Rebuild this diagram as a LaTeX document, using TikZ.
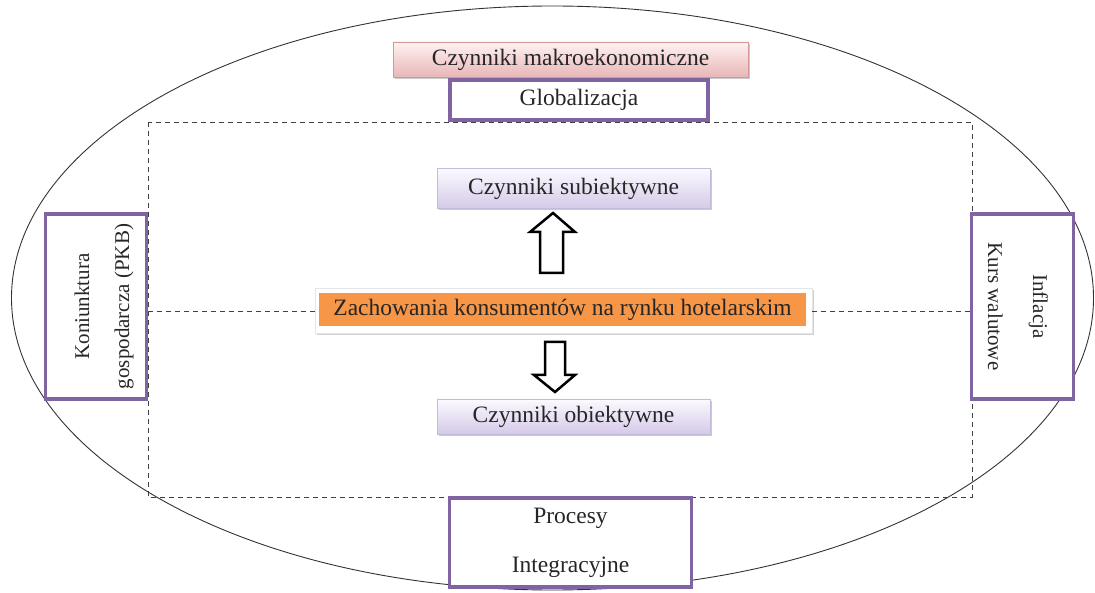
\documentclass[tikz,border=0pt]{standalone}
\usepackage{fontspec}
\setmainfont{Liberation Serif}
\usetikzlibrary{shadows}
\definecolor{purp}{RGB}{128,100,162}
\definecolor{orng}{RGB}{247,150,70}
\definecolor{lavtop}{RGB}{252,250,255}
\definecolor{lavbot}{RGB}{212,202,232}
\definecolor{lavline}{RGB}{196,186,218}
\definecolor{pinktop}{RGB}{255,242,242}
\definecolor{pinkbot}{RGB}{232,182,182}
\definecolor{pinkline}{RGB}{212,150,150}
\tikzset{
  txt/.style={font=\fontsize{23.5}{28}\selectfont, text=black!85, inner sep=0pt},
  purplebox/.style={txt, draw=purp, line width=3.5pt, fill=white},
  lavbox/.style={txt, draw=lavline, line width=0.8pt, top color=lavtop, bottom color=lavbot,
     drop shadow={shadow xshift=2pt, shadow yshift=-2pt, fill=black!35, opacity=0.6}},
  pinkbox/.style={txt, draw=pinkline, line width=0.8pt, top color=pinktop, bottom color=pinkbot,
     drop shadow={shadow xshift=2pt, shadow yshift=-2pt, fill=black!35, opacity=0.6}},
  dashline/.style={draw=black!75, line width=0.8pt, dash pattern=on 5pt off 4pt},
  blockarrow/.style={draw=black, line width=2.5pt, fill=white, line join=miter},
}
\begin{document}
\begin{tikzpicture}[x=1pt,y=-1pt]
\useasboundingbox (0,0) rectangle (1095,593);
% outer ellipse
\draw[black!80, line width=0.9pt] (552.5,298) ellipse [x radius=541, y radius=292];
% dashed frame
\coordinate (fTL) at (148,122);
\coordinate (fBR) at (972,497);
\draw[dashline] (fTL) rectangle (fBR);
% top boxes
\node[pinkbox, minimum width=355pt, minimum height=35pt] (makro) at (570.5,59.5) {Czynniki makroekonomiczne};
\node[purplebox, minimum width=258pt, minimum height=40pt] (glob) at (579,100) {Globalizacja};
% centre
\node[fill=white, draw=black!10, line width=0.5pt, minimum width=497pt, minimum height=45pt,
      drop shadow={shadow xshift=2pt, shadow yshift=-2pt, fill=black!30, opacity=0.6}] (centerframe) at (563.5,311) {};
\node[txt, fill=orng, minimum width=487pt, minimum height=33pt] (center) at (562.5,310) {Zachowania konsumentów na rynku hotelarskim};
\node[lavbox, minimum width=273pt, minimum height=40pt] (subj) at (573.5,188.5) {Czynniki subiektywne};
\node[lavbox, minimum width=273pt, minimum height=35pt] (obj) at (573.5,416.5) {Czynniki obiektywne};
% side boxes
\node[purplebox, minimum width=101pt, minimum height=185pt] (konj) at (96,306.5) {};
\node[txt, rotate=90, align=center, font=\fontsize{21}{40}\selectfont] (konjtext) at (104,306.5) {Koniunktura\\gospodarcza (PKB)};
\node[purplebox, minimum width=102pt, minimum height=185pt] (infl) at (1022.5,306.5) {};
\node[txt, rotate=-90, align=center, font=\fontsize{21}{45}\selectfont] (infltext) at (1018,306.5) {Inflacja\\Kurs walutowe};
% bottom box
\node[purplebox, minimum width=242pt, minimum height=89pt, align=center,
      font=\fontsize{23.5}{49}\selectfont] (proc) at (570.5,542.5) {Procesy\\Integracyjne};
% dashed middle lines
\draw[dashline] (centerframe.west -| fTL) -- (centerframe.west);
\draw[dashline] (centerframe.east) -- (centerframe.east -| fBR);
% block arrows
\draw[blockarrow] (540,273) -- (540,232) -- (530,232) -- (553,213) -- (575,232) -- (563,232) -- (563,273) -- cycle;
\draw[blockarrow] (545,342) -- (565,342) -- (565,375) -- (575,375) -- (555,392) -- (534,375) -- (545,375) -- cycle;
\end{tikzpicture}
\end{document}
